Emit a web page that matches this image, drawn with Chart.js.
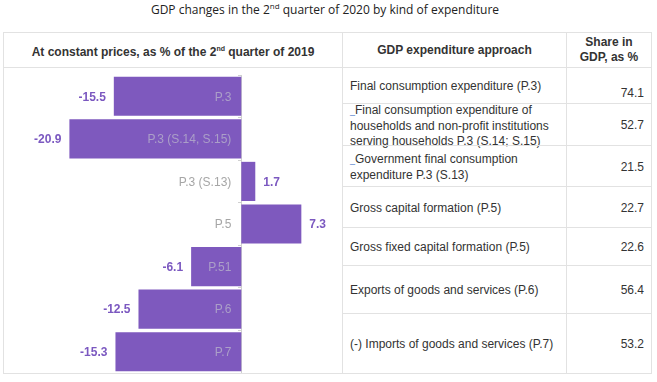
<!DOCTYPE html>
<html>
<head>
<meta charset="utf-8">
<script src="https://cdn.jsdelivr.net/npm/chart.js@4/dist/chart.umd.min.js"></script>
<style>
  body { margin: 0; background: #fff; }
  #wrap { position: relative; width: 657px; height: 382px; overflow: hidden; font-family: "Liberation Sans", Arial, sans-serif; color: #333; }
  #title { position: absolute; left: 0; width: 650px; top: 0; text-align: center; font-family: "Open Sans", sans-serif; font-size: 12px; color: #222; }
  #title sup { font-size: 8px; }
  .cell { position: absolute; box-sizing: border-box; border: 1px solid #e2e2e2; display: flex; align-items: center; font-size: 12px; line-height: 15px; }
  .head { font-weight: bold; justify-content: center; text-align: center; }
  .desc { padding-left: 7px; white-space: pre-line; }
  .share { justify-content: flex-end; padding-right: 7px; }
  .mark { color: #4a78c8; font-size: 9px; }
  #chart { position: absolute; left: 11px; top: 75px; }
</style>
</head>
<body>
<div id="wrap">
  <div id="title">GDP changes in the 2<sup>nd</sup> quarter of 2020 by kind of expenditure</div>
  <div id="table"></div>
  <canvas id="chart" width="329" height="298"></canvas>
</div>
<script>
// kategoriler ve degerler
const codes = ['P.3', 'P.3 (S.14, S.15)', 'P.3 (S.13)', 'P.5', 'P.51', 'P.6', 'P.7'];
const changes = [-15.5, -20.9, 1.7, 7.3, -6.1, -12.5, -15.3];
const descriptions = [
  'Final consumption expenditure (P.3)',
  '_Final consumption expenditure of\nhouseholds and non-profit institutions\nserving households P.3 (S.14; S.15)',
  '_Government final consumption\nexpenditure P.3 (S.13)',
  'Gross capital formation (P.5)',
  'Gross fixed capital formation (P.5)',
  'Exports of goods and services (P.6)',
  '(-) Imports of goods and services (P.7)'
];
const shares = ['74.1', '52.7', '21.5', '22.7', '22.6', '56.4', '53.2'];

// tablo satir sinirlari (px)
const rowTops = [67, 103, 145, 186, 227, 265, 313, 373];

const table = document.getElementById('table');
function addCell(cls, x, y, w, h, html, extra) {
    const d = document.createElement('div');
    d.className = 'cell ' + cls;
    d.style.left = x + 'px';
    d.style.top = y + 'px';
    d.style.width = w + 'px';
    d.style.height = h + 'px';
    if (extra) d.style.cssText += extra;
    d.innerHTML = '<div>' + html + '</div>';
    table.appendChild(d);
}

addCell('head', 3, 32, 340, 36, 'At constant prices, as % of the 2<sup style="font-size:7px">nd</sup> quarter of 2019');
addCell('head', 342, 32, 225, 36, 'GDP expenditure approach');
addCell('head', 566, 32, 86, 36, 'Share in<br>GDP, as %');
addCell('', 3, 67, 340, 307, '');

for (let i = 0; i < descriptions.length; i++) {
    const top = rowTops[i];
    const h = rowTops[i + 1] - top + 1;
    let txt = descriptions[i];
    if (txt[0] === '_') txt = '<span class="mark">_</span>' + txt.substring(1);
    addCell('desc', 342, top, 225, h, txt, 'padding-top:2px');
    addCell('share', 566, top, 86, h, shares[i], i === 0 ? 'padding-top:16px' : 'padding-top:2px');
}

const purple = '#7e59be';

// deger ve kod etiketleri
const barLabels = {
    id: 'barLabels',
    afterDatasetsDraw(chart) {
        const ctx = chart.ctx;
        const meta = chart.getDatasetMeta(0);
        const zero = chart.scales.x.getPixelForValue(0);
        ctx.save();
        ctx.textBaseline = 'middle';
        meta.data.forEach((bar, i) => {
            const v = changes[i];
            ctx.font = 'bold 12px "Liberation Sans", Arial, sans-serif';
            ctx.fillStyle = '#7b58c0';
            if (v < 0) {
                ctx.textAlign = 'right';
                ctx.fillText(v.toFixed(1), bar.x - 8, bar.y + 1);
            } else {
                ctx.textAlign = 'left';
                ctx.fillText(v.toFixed(1), bar.x + 8, bar.y + 1);
            }
            ctx.font = '12px "Liberation Sans", Arial, sans-serif';
            ctx.fillStyle = v < 0 ? '#ab9fc8' : '#a6a6a6';
            ctx.textAlign = 'right';
            ctx.fillText(codes[i], zero - 10, chart.scales.y.getPixelForValue(i) + 1);
        });
        ctx.restore();
    }
};

new Chart(document.getElementById('chart'), {
    type: 'bar',
    data: {
        labels: codes,
        datasets: [{
            data: changes,
            backgroundColor: purple,
            barPercentage: 0.92,
            categoryPercentage: 1
        }]
    },
    options: {
        indexAxis: 'y',
        responsive: false,
        animation: false,
        devicePixelRatio: 1,
        layout: { padding: 0 },
        plugins: { legend: { display: false }, tooltip: { enabled: false }, title: { display: false } },
        scales: {
            x: { display: false, min: -28, max: 12 },
            y: {
                position: { x: 0 },
                grid: { drawOnChartArea: false, tickLength: 3, color: '#d0d0d0' },
                border: { color: '#d0d0d0' },
                ticks: { display: false }
            }
        }
    },
    plugins: [barLabels]
});
</script>
</body>
</html>
